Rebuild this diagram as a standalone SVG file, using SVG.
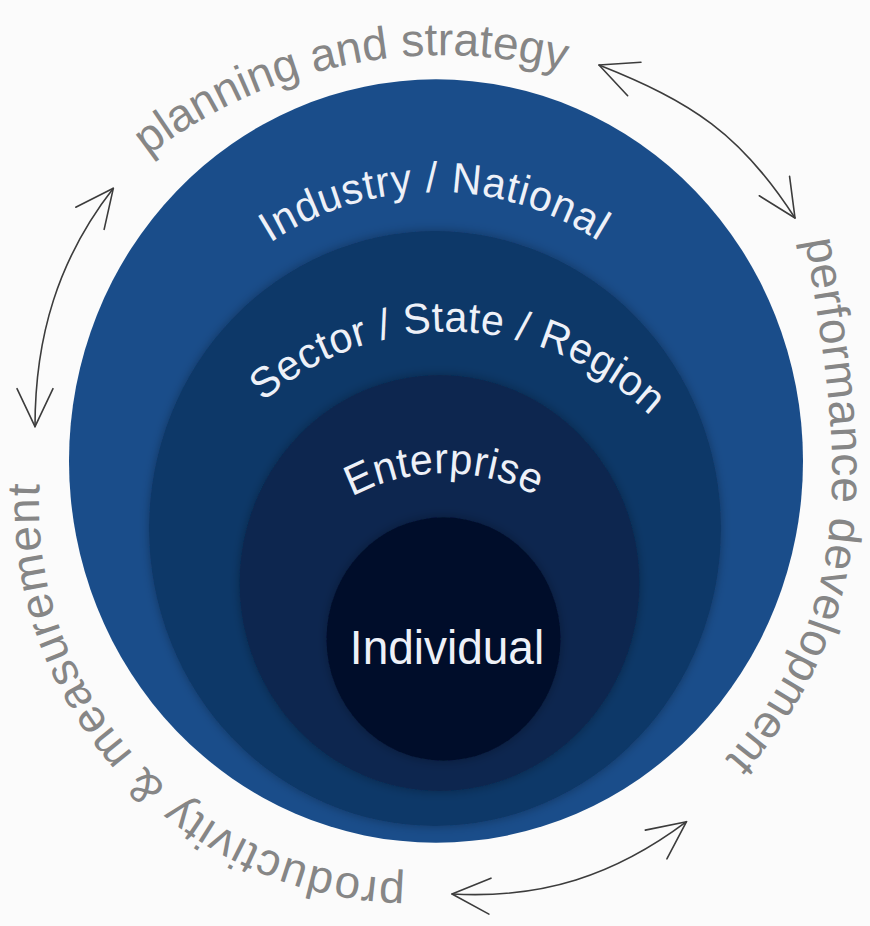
<svg xmlns="http://www.w3.org/2000/svg" width="870" height="926" viewBox="0 0 870 926">
<style>
.wt{font-family:"Liberation Sans",Arial,sans-serif;fill:#eef1f8;font-size:41px}
.gt{font-family:"Liberation Sans",Arial,sans-serif;fill:#868686;font-size:46px}
.arr{fill:none;stroke:#3c3c3c;stroke-width:1.6;stroke-linecap:round;marker-start:url(#ah);marker-end:url(#ah)}
.ring{filter:url(#sh)}
</style>
<defs>
<marker id="ah" markerUnits="userSpaceOnUse" markerWidth="50" markerHeight="50" viewBox="-45 -25 50 50" refX="0" refY="0" orient="auto-start-reverse">
<path d="M-38,-18 L0,0 L-38,18" fill="none" stroke="#3c3c3c" stroke-width="1.6" stroke-linecap="round" stroke-linejoin="round"/>
</marker>
<filter id="sh" x="-10%" y="-10%" width="120%" height="120%">
<feDropShadow dx="0" dy="0" stdDeviation="5" flood-color="#000" flood-opacity="0.3"/>
</filter>
<path id="pInd" d="M270,233.7 A303.5,303.5 0 0 1 601,233.7"/>
<path id="pSec" d="M263,386.5 A289.6,289.6 0 0 1 652,401.9"/>
<path id="pEnt" d="M352,477.9 A200.3,200.3 0 0 1 538,477.9"/>
<path id="pPlan" d="M148,156 A483,483 0 0 1 566,71"/>
<path id="pPerf" d="M805,240 C842.4,456.7 863.6,610.4 714,771"/>
<path id="pProd" d="M405,879 A374,374 0 0 1 40,478"/>
</defs>
<rect width="870" height="926" fill="#fbfbfb"/>
<g transform="scale(1,1.04)">
<g id="industry-national">
<circle cx="436" cy="443.3" r="367" fill="#1a4d8a"/>
<text class="wt"><textPath href="#pInd" textLength="347">Industry / National</textPath></text>
</g>
<g id="sector-state-region">
<circle class="ring" cx="435" cy="508.2" r="286" fill="#113867"/>
<text class="wt"><textPath href="#pSec" textLength="424">Sector / State / Region</textPath></text>
</g>
<g id="enterprise">
<circle class="ring" cx="439.5" cy="560.6" r="200" fill="#0b284f"/>
<text class="wt"><textPath href="#pEnt" textLength="191">Enterprise</textPath></text>
</g>
<g id="individual">
<circle class="ring" cx="443.5" cy="614.4" r="117" fill="#040f2b"/>
<text class="wt" x="447" y="638.5" text-anchor="middle" style="font-size:46px">Individual</text>
</g>
</g>
<g id="planning-and-strategy">
<text class="gt"><textPath href="#pPlan" textLength="440">planning and strategy</textPath></text>
</g>
<g id="performance-development">
<text class="gt"><textPath href="#pPerf" textLength="548">performance development</textPath></text>
</g>
<g id="productivity-measurement">
<text class="gt"><textPath href="#pProd" textLength="600">productivity &amp; measurement</textPath></text>
</g>
<g id="connectors">
<path class="arr" d="M599,65 C692,102 740.9,133.9 795,218"/>
<path class="arr" d="M452,894 C541.8,899.1 614.5,875.7 686.5,821.7"/>
<path class="arr" d="M113.3,188.3 C58,259.3 35,336.7 35,426.7"/>
</g>
</svg>
